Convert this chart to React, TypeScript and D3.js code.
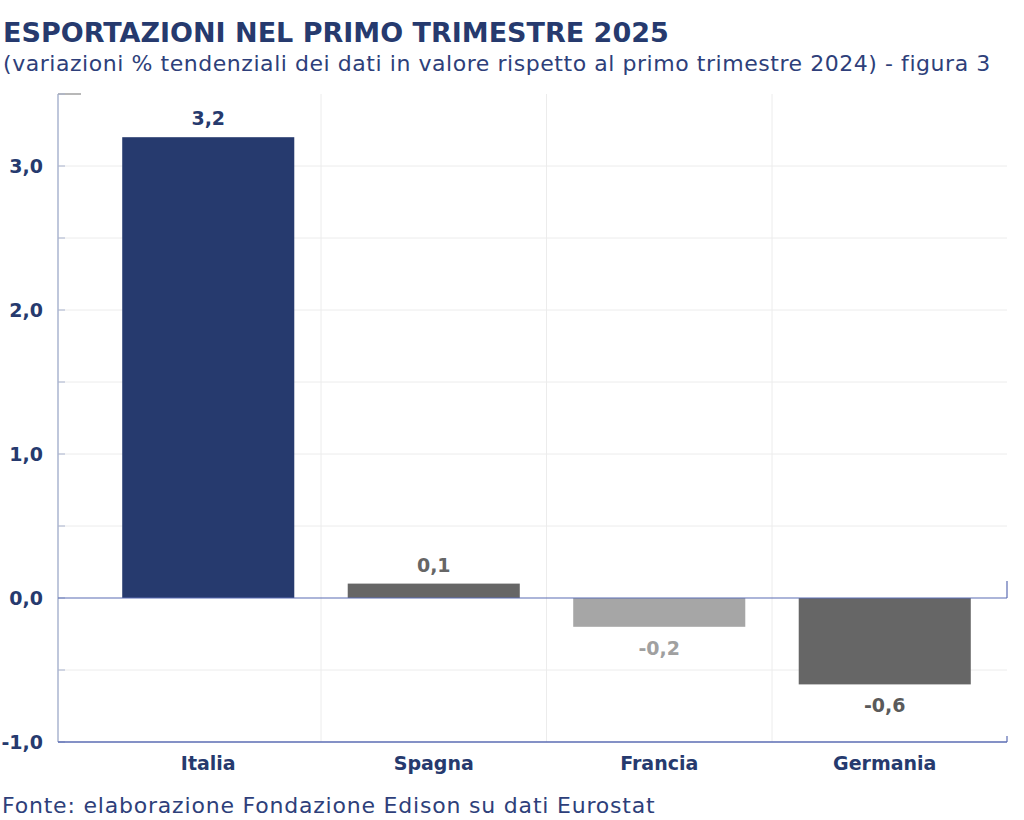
import React from "react";
import * as d3 from "d3";

const categories = ["Italia", "Spagna", "Francia", "Germania"];
const values = [3.2, 0.1, -0.2, -0.6];
const barColors = ["#263a6e", "#666666", "#a6a6a6", "#666666"];
const labelColors = ["#263a6e", "#666666", "#a0a0a0", "#5a5a5a"];
const yTicks = [-1, 0, 1, 2, 3];
const yMinorTicks = [-0.5, 0.5, 1.5, 2.5, 3.5];

const title = "ESPORTAZIONI NEL PRIMO TRIMESTRE 2025";
const subtitle = "(variazioni % tendenziali dei dati in valore rispetto al primo trimestre 2024) - figura 3";
const source = "Fonte: elaborazione Fondazione Edison su dati Eurostat";

const W = 1024;
const H = 820;
const NAVY = "#263a6e";
const FONT = "'DejaVu Sans', sans-serif";

const fmt = (v: number) => d3.format(".1f")(v).replace(".", ",").replace("−", "-");

export default function App() {
  const axisX = 58;
  const rightX = 1007;
  const y = d3.scaleLinear().domain([-1, 3.5]).range([742, 94]);
  const x = d3
    .scaleBand<string>()
    .domain(categories)
    .range([95.5, 997.5])
    .paddingInner(0.237)
    .paddingOuter(0.1185);
  const step = x.step();
  const vGrid = categories.slice(1).map((c) => (x(c) as number) - (step * x.paddingInner()) / 2);

  return (
    <svg width={W} height={H} style={{ position: "absolute", left: 0, top: 0, background: "#fff" }}>
      <rect width={W} height={H} fill="#fff" />
      <text x={3} y={42} fontFamily={FONT} fontWeight={700} fontSize={27} fill={NAVY}>
        {title}
      </text>
      <text x={3} y={71} fontFamily={FONT} fontSize={22} letterSpacing={0.55} fill="#2e3f7a">
        {subtitle}
      </text>

      {/* horizontal gridlines */}
      {[...yTicks, ...yMinorTicks]
        .filter((t) => t !== 0 && t !== -1 && t !== 3.5)
        .map((t) => (
          <line key={"g" + t} x1={axisX} x2={rightX} y1={y(t)} y2={y(t)} stroke="#ececec" strokeWidth={1} />
        ))}
      {/* vertical gridlines */}
      {vGrid.map((gx, i) => (
        <line key={"v" + i} x1={gx} x2={gx} y1={94} y2={742} stroke="#ececec" strokeWidth={1} />
      ))}

      {/* bars */}
      {categories.map((c, i) => {
        const v = values[i];
        const y0 = y(Math.max(0, v));
        const h = Math.abs(y(v) - y(0));
        return <rect key={c} x={x(c)} y={y0} width={x.bandwidth()} height={h} fill={barColors[i]} />;
      })}

      {/* value labels */}
      {categories.map((c, i) => {
        const v = values[i];
        const cx = (x(c) as number) + x.bandwidth() / 2;
        const ly = v >= 0 ? y(v) - 12 : y(v) + 28;
        return (
          <text key={"l" + c} x={cx} y={ly} textAnchor="middle" fontFamily={FONT} fontWeight={700} fontSize={19} fill={labelColors[i]}>
            {fmt(v)}
          </text>
        );
      })}

      {/* axes */}
      <line x1={axisX} x2={axisX} y1={94} y2={742} stroke="#aab4cf" strokeWidth={1.5} />
      <line x1={axisX} x2={81} y1={94} y2={94} stroke="#a0a0a0" strokeWidth={1.5} />
      {[...yTicks, ...yMinorTicks].map((t) => (
        <line key={"t" + t} x1={axisX} x2={axisX + 7} y1={y(t)} y2={y(t)} stroke="#aab4cf" strokeWidth={1} />
      ))}
      <line x1={axisX} x2={rightX} y1={y(0)} y2={y(0)} stroke="#5b6cb3" strokeWidth={1.2} />
      <line x1={rightX} x2={rightX} y1={y(0) - 17} y2={y(0)} stroke="#5b6cb3" strokeWidth={1.2} />
      <line x1={axisX} x2={rightX} y1={y(-1)} y2={y(-1)} stroke="#5b6cb3" strokeWidth={1.5} />
      <line x1={rightX} x2={rightX} y1={y(-1) - 6} y2={y(-1)} stroke="#5b6cb3" strokeWidth={1.2} />

      {yTicks.map((t) => (
        <text key={"yl" + t} x={43} y={y(t) + 7} textAnchor="end" fontFamily={FONT} fontWeight={700} fontSize={19} fill={NAVY}>
          {fmt(t)}
        </text>
      ))}

      {categories.map((c) => (
        <text key={"c" + c} x={(x(c) as number) + x.bandwidth() / 2} y={770} textAnchor="middle" fontFamily={FONT} fontWeight={700} fontSize={19} fill={NAVY}>
          {c}
        </text>
      ))}

      <text x={2} y={813} fontFamily={FONT} fontSize={22} letterSpacing={0.8} fill="#2e3f7a">
        {source}
      </text>
    </svg>
  );
}
